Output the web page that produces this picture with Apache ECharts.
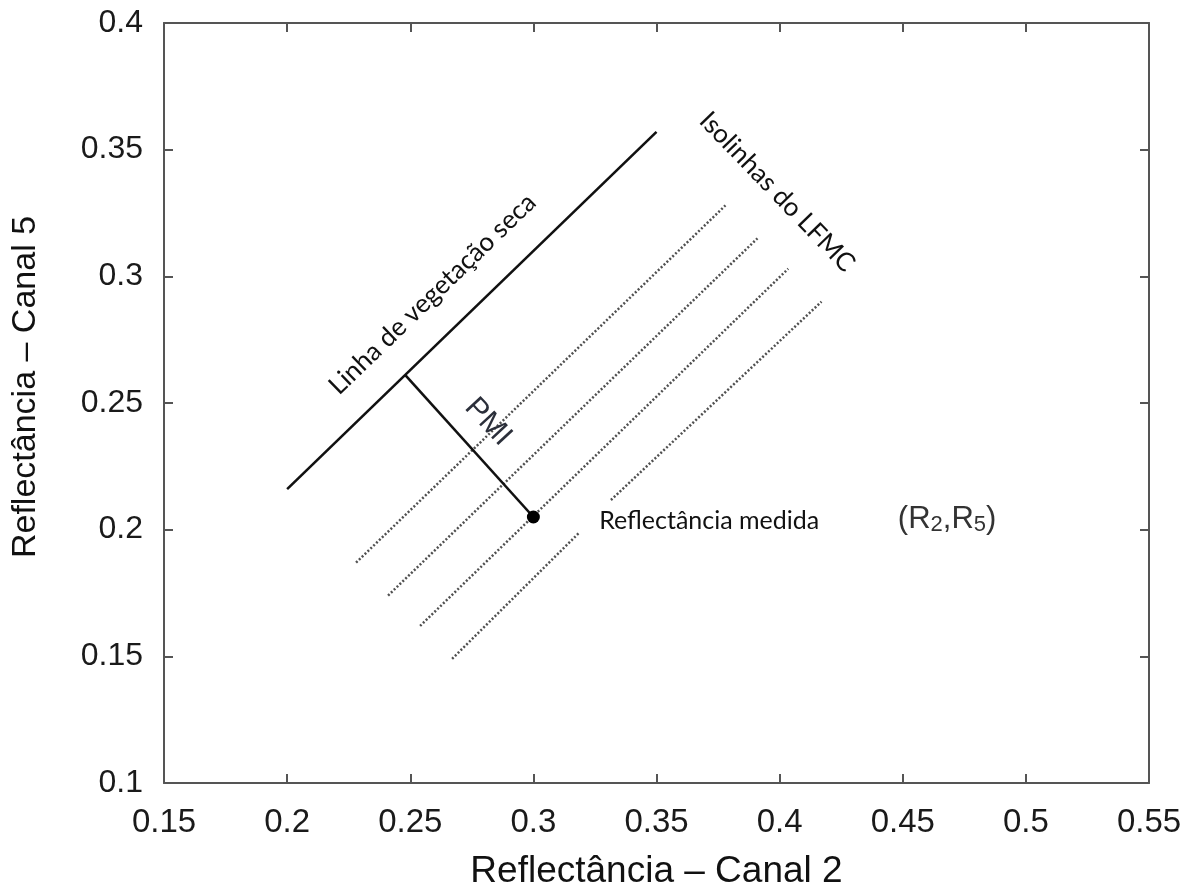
<!DOCTYPE html>
<html>
<head>
<meta charset="utf-8">
<title>PMI</title>
<script src="https://cdn.jsdelivr.net/npm/echarts@6/dist/echarts.min.js"></script>
<style>
  html, body { margin: 0; padding: 0; background: #fff; }
  #chart { width: 1196px; height: 887px; }
</style>
</head>
<body>
<div id="chart"></div>
<script>
// axis ranges / ticks
const xRange = [0.15, 0.55]
const yRange = [0.1, 0.4]
const tickStep = 0.05

// linha de vegetação seca (solid)
const dryLine = [[0.200, 0.216], [0.350, 0.357]]
// PMI segment, from dry line to measured point
const pmiSegment = [[0.248, 0.261], [0.300, 0.205]]
// measured reflectance (R2, R5)
const measured = [[0.300, 0.205]]
// LFMC isolines (dotted); the last one is broken where the text sits
const isolines = [
  [[0.228, 0.187], [0.378, 0.328]],
  [[0.241, 0.174], [0.391, 0.315]],
  [[0.254, 0.162], [0.4035, 0.303]],
  [[0.267, 0.149], [0.3186, 0.1988]],
  [[0.3315, 0.2117], [0.417, 0.290]],
]

const annoFont = 'Lato, "Open Sans", sans-serif'
const axisFont = '"Liberation Sans", Arial, sans-serif'

const chart = echarts.init(document.getElementById('chart'))

const baseAxis = {
  type: 'value',
  interval: tickStep,
  axisLine: { show: true, lineStyle: { color: '#555', width: 2 } },
  axisTick: { show: true, inside: true, length: 9, lineStyle: { color: '#555', width: 2 } },
  splitLine: { show: false },
}

// small helper for text placed in data coords
const note = (pos, text, rotate, extra) => ({
  type: 'scatter',
  xAxisIndex: 0,
  yAxisIndex: 0,
  symbolSize: 0,
  silent: true,
  data: [pos],
  itemStyle: { opacity: 1 },
  label: Object.assign({
    show: true,
    position: 'inside',
    formatter: text,
    rotate: rotate,
    align: 'center',
    verticalAlign: 'middle',
    color: '#111',
    opacity: 1,
    fontFamily: annoFont,
    fontSize: 26,
  }, extra || {}),
  z: 5,
})

const series = []

isolines.forEach((seg) => {
  series.push({
    type: 'line',
    data: seg,
    symbol: 'none',
    silent: true,
    lineStyle: { color: '#505050', width: 2.5, type: [2, 2], opacity: 1 },
  })
})

series.push({
  type: 'line',
  data: dryLine,
  symbol: 'none',
  silent: true,
  lineStyle: { color: '#111', width: 2.6 },
})

series.push({
  type: 'line',
  data: pmiSegment,
  symbol: 'none',
  silent: true,
  lineStyle: { color: '#111', width: 2.6 },
})

series.push({
  type: 'scatter',
  data: measured,
  symbol: 'circle',
  symbolSize: 13,
  silent: true,
  itemStyle: { color: '#000', opacity: 1 },
  z: 4,
})

series.push(note([0.259, 0.293], 'Linha de vegetação seca', 44))
series.push(note([0.399, 0.3333], 'Isolinhas do LFMC', -46))
series.push(note([0.2816, 0.2425], 'PMI', -47, {
  fontFamily: axisFont, fontSize: 30, color: '#2b2f3a',
}))
series.push(note([0.3714, 0.2034], 'Reflectância medida', 0, { fontSize: 25 }))
series.push(note([0.468, 0.2042], '{r|(R}{s|2}{r|,R}{s|5}{r|)}', 0, {
  color: '#333',
  rich: {
    r: { fontFamily: axisFont, fontSize: 31, color: '#333', lineHeight: 34, verticalAlign: 'middle' },
    s: { fontFamily: axisFont, fontSize: 22, color: '#333', lineHeight: 18, verticalAlign: 'bottom' },
  },
}))

chart.setOption({
  animation: false,
  backgroundColor: '#fff',
  grid: { left: 164, right: 47, top: 23, bottom: 104, containLabel: false, outerBoundsMode: 'none' },
  xAxis: [
    Object.assign({}, baseAxis, {
      position: 'bottom',
      min: xRange[0],
      max: xRange[1],
      name: 'Reflectância – Canal 2',
      nameLocation: 'middle',
      nameGap: 70,
      nameTextStyle: { fontFamily: axisFont, fontSize: 37, color: '#111' },
      axisLabel: {
        margin: 23,
        fontFamily: axisFont,
        fontSize: 33,
        color: '#1a1a1a',
        formatter: (v) => String(+v.toFixed(2)),
      },
    }),
    Object.assign({}, baseAxis, {
      position: 'top',
      min: xRange[0],
      max: xRange[1],
      axisLabel: { show: false },
    }),
  ],
  yAxis: [
    Object.assign({}, baseAxis, {
      position: 'left',
      min: yRange[0],
      max: yRange[1],
      name: 'Reflectância – Canal 5',
      nameLocation: 'middle',
      nameGap: 121,
      nameRotate: 90,
      nameTextStyle: { fontFamily: axisFont, fontSize: 34, color: '#111', padding: [0, 0, 0, 32] },
      axisLabel: {
        margin: 21,
        fontFamily: axisFont,
        fontSize: 32,
        color: '#1a1a1a',
        formatter: (v) => String(+v.toFixed(2)),
      },
    }),
    Object.assign({}, baseAxis, {
      position: 'right',
      min: yRange[0],
      max: yRange[1],
      axisLabel: { show: false },
    }),
  ],
  series: series,
})
</script>
</body>
</html>
